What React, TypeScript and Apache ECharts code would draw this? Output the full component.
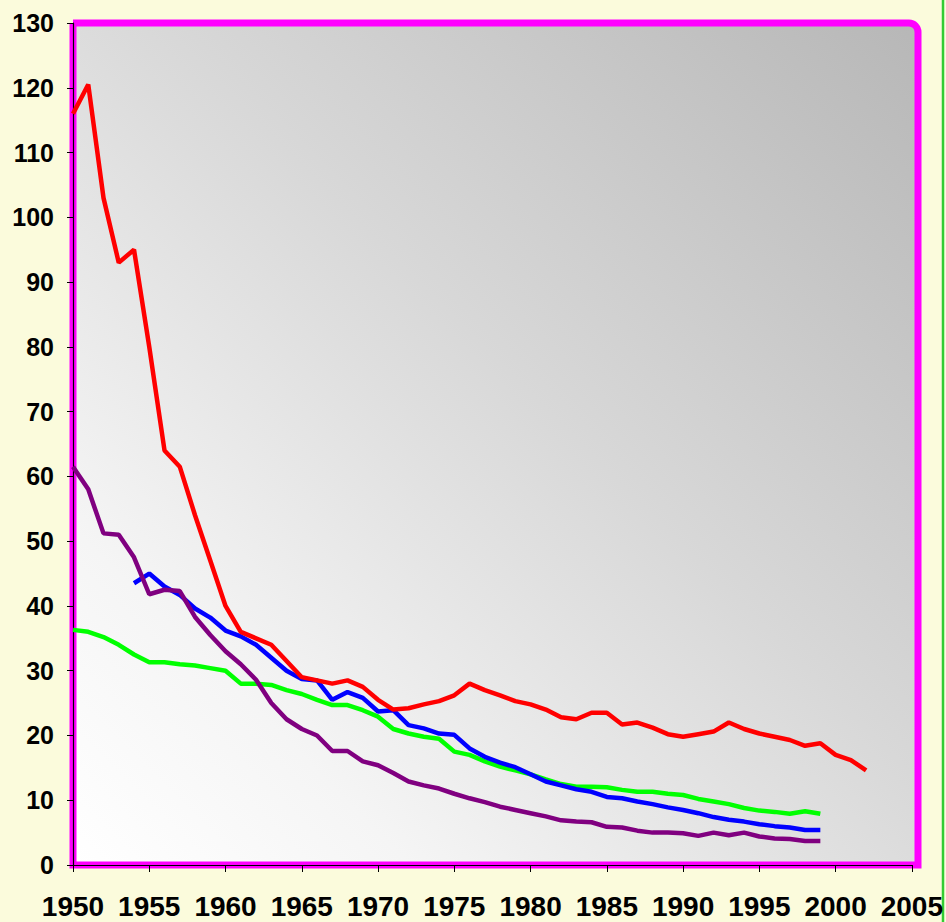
import React, { useEffect, useRef } from "react";
import * as echarts from "echarts";

const years = [
  1950, 1951, 1952, 1953, 1954, 1955, 1956, 1957, 1958, 1959,
  1960, 1961, 1962, 1963, 1964, 1965, 1966, 1967, 1968, 1969,
  1970, 1971, 1972, 1973, 1974, 1975, 1976, 1977, 1978, 1979,
  1980, 1981, 1982, 1983, 1984, 1985, 1986, 1987, 1988, 1989,
  1990, 1991, 1992, 1993, 1994, 1995, 1996, 1997, 1998, 1999,
  2000, 2001, 2002,
];

const xTicks = [1950, 1955, 1960, 1965, 1970, 1975, 1980, 1985, 1990, 1995, 2000, 2005];

// 1950-2002
const redValues = [
  116, 120.5, 103, 93, 95, 80, 64, 61.5, 54, 47,
  40, 36, 35, 34, 31.5, 29, 28.5, 28, 28.5, 27.5,
  25.5, 24, 24.2, 24.8, 25.3, 26.2, 28, 27, 26.2, 25.3,
  24.8, 24, 22.8, 22.5, 23.5, 23.5, 21.7, 22, 21.2, 20.2,
  19.8, 20.2, 20.6, 22, 21, 20.3, 19.8, 19.3, 18.4, 18.8,
  17, 16.2, 14.6,
];

// 1950-1999
const purpleValues = [
  61.5, 58, 51.2, 51, 47.5, 41.8, 42.5, 42.3, 38.3, 35.5,
  33, 31, 28.6, 25, 22.5, 21, 20, 17.6, 17.6, 16,
  15.4, 14.2, 12.9, 12.3, 11.8, 11, 10.3, 9.7, 9, 8.5,
  8, 7.5, 6.9, 6.7, 6.6, 5.9, 5.8, 5.3, 5, 5,
  4.9, 4.5, 5, 4.6, 5, 4.4, 4.1, 4, 3.7, 3.7,
];

// 1950-1999
const greenValues = [
  36.3, 36, 35.2, 34, 32.5, 31.3, 31.3, 31, 30.8, 30.4,
  30, 28, 28, 27.8, 27, 26.4, 25.5, 24.7, 24.7, 23.9,
  22.9, 21, 20.3, 19.8, 19.5, 17.5, 17, 16, 15.2, 14.6,
  14, 13.2, 12.5, 12.1, 12.1, 12, 11.6, 11.3, 11.3, 11,
  10.8, 10.2, 9.8, 9.4, 8.8, 8.4, 8.2, 7.9, 8.3, 7.9,
];

// 1954-1999
const blueValues = [
  43.5, 45, 43, 41.7, 39.6, 38.2,
  36.2, 35.3, 34, 32, 30, 28.7, 28.5, 25.5, 26.7, 25.8,
  23.7, 23.9, 21.6, 21.1, 20.3, 20.1, 18, 16.7, 15.8, 15.1,
  14, 12.9, 12.3, 11.7, 11.3, 10.5, 10.3, 9.8, 9.4, 8.9,
  8.5, 8, 7.4, 7, 6.7, 6.3, 6, 5.8, 5.4, 5.4,
];

const pairs = (ys: number[], vs: number[]) => vs.map((v, i) => [ys[i], v]);

export default function App() {
  const ref = useRef<HTMLDivElement>(null);
  useEffect(() => {
    if (!ref.current) return;
    const chart = echarts.init(ref.current, null, { renderer: "svg" });
    const L = 73, T = 23, R = 918, B = 865;
    chart.setOption({
      animation: false,
      backgroundColor: "#fbfbdc",
      grid: { left: L, top: T, right: 946 - R, bottom: 922 - B, containLabel: false },
      graphic: [
        {
          type: "rect",
          z: -10,
          shape: { x: L, y: T, width: R - L, height: B - T, r: [0, 9, 0, 0] },
          style: {
            fill: new echarts.graphic.LinearGradient(1, 0, 0, 1, [
              { offset: 0, color: "#b7b7b7" },
              { offset: 0.45, color: "#d8d8d8" },
              { offset: 0.8, color: "#f5f5f5" },
              { offset: 1, color: "#ffffff" },
            ]),
            stroke: "#ff00ff",
            lineWidth: 7,
          },
        },
        {
          type: "line",
          shape: { x1: 943, y1: 0, x2: 943, y2: 922 },
          style: { stroke: "#33cc33", lineWidth: 2.5 },
        },
      ],
      xAxis: {
        type: "value",
        min: 1950,
        max: 2005,
        interval: 5,
        splitLine: { show: false },
        axisLine: { show: true, onZero: false, lineStyle: { color: "#000", width: 1.2 } },
        axisTick: { show: true, length: 7, lineStyle: { color: "#000" } },
        axisLabel: {
          margin: 27,
          fontFamily: "'Liberation Sans Narrow', 'Liberation Sans', Arial, sans-serif",
          fontWeight: "bold",
          fontSize: 28,
          color: "#000",
          formatter: (v: number) => (xTicks.includes(v) ? String(v) : ""),
        },
      },
      yAxis: {
        type: "value",
        min: 0,
        max: 130,
        interval: 10,
        splitLine: { show: false },
        axisLine: { show: true, lineStyle: { color: "#000", width: 1.2 } },
        axisTick: { show: true, length: 6, lineStyle: { color: "#000" } },
        axisLabel: {
          margin: 19,
          fontFamily: "'Liberation Sans', Arial, sans-serif",
          fontWeight: "bold",
          fontSize: 25,
          color: "#000",
        },
      },
      series: [
        {
          type: "line",
          data: pairs(years, greenValues),
          symbol: "none",
          lineStyle: { color: "#00ff00", width: 4.5 },
        },
        {
          type: "line",
          data: pairs(years.slice(4), blueValues),
          symbol: "none",
          lineStyle: { color: "#0000ff", width: 4.5 },
        },
        {
          type: "line",
          data: pairs(years, purpleValues),
          symbol: "none",
          lineStyle: { color: "#800080", width: 4.5 },
        },
        {
          type: "line",
          data: pairs(years, redValues),
          symbol: "none",
          lineStyle: { color: "#ff0000", width: 4.5 },
        },
      ],
    });
    return () => chart.dispose();
  }, []);
  return (
    <div
      ref={ref}
      style={{ position: "fixed", left: 0, top: 0, width: 946, height: 922 }}
    />
  );
}
